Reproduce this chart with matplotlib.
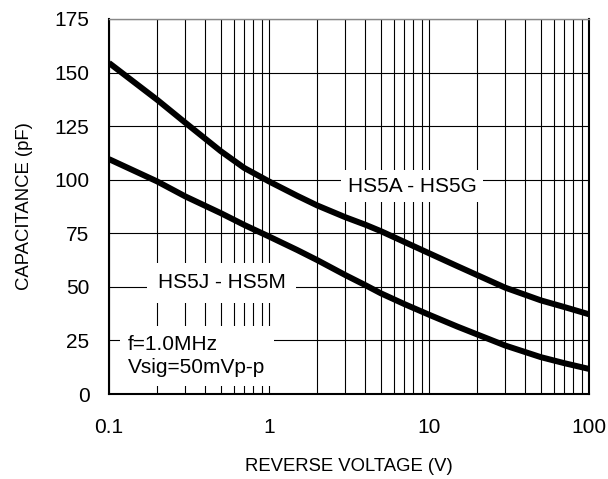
import matplotlib
matplotlib.use("Agg")
import matplotlib.pyplot as plt
from matplotlib.ticker import FixedLocator, NullFormatter, FixedFormatter

plt.rcParams['font.family'] = ['Liberation Sans', 'DejaVu Sans']

voltage = [0.1, 0.2, 0.3, 0.4, 0.5, 0.7, 1, 1.5, 2, 3, 4, 5, 7, 10, 15, 20, 30, 50, 70, 100]
cap_hs5a_hs5g = [154.5, 137.3, 126.6, 119.1, 113.3, 105.5, 99.2, 92.5, 88.0, 82.5, 79.0, 76.0,
                 71.0, 65.7, 59.7, 55.5, 49.6, 43.7, 40.6, 37.2]
cap_hs5j_hs5m = [109.6, 99.2, 92.2, 87.8, 84.4, 78.9, 73.5, 67.2, 62.5, 55.5, 50.8, 47.0,
                 42.0, 37.0, 31.5, 27.8, 22.6, 17.2, 14.4, 11.7]

x_major = [0.1, 1, 10, 100]
x_labels = ["0.1", "1", "10", "100"]
y_ticks = [0, 25, 50, 75, 100, 125, 150, 175]

fig = plt.figure(figsize=(6.08, 4.79), dpi=100)
ax = fig.add_axes([109/608, (479-394)/479, 480/608, 375/479])

ax.set_xscale('log')
ax.set_xlim(0.1, 100)
ax.set_ylim(0, 175)

minor = [m * d for d in [0.1, 1, 10] for m in range(2, 10)]
ax.xaxis.set_major_locator(FixedLocator(x_major))
ax.xaxis.set_major_formatter(FixedFormatter(x_labels))
ax.xaxis.set_minor_locator(FixedLocator(minor))
ax.xaxis.set_minor_formatter(NullFormatter())
ax.set_yticks(y_ticks)

ax.grid(True, which='both', axis='x', color='black', linewidth=0.8)
ax.grid(True, which='major', axis='y', color='black', linewidth=0.8)
ax.set_axisbelow(True)

ax.tick_params(axis='both', which='both', length=0, labelsize=15)
ax.tick_params(axis='x', pad=17)
ax.tick_params(axis='y', pad=14)

for s in ['left', 'bottom', 'right']:
    ax.spines[s].set_color('black')
    ax.spines[s].set_linewidth(1.5)
ax.spines['top'].set_color('#888888')
ax.spines['top'].set_linewidth(1.0)

ax.plot(voltage, cap_hs5a_hs5g, color='black', linewidth=4.3, solid_joinstyle='round', solid_capstyle='butt', zorder=3)
ax.plot(voltage, cap_hs5j_hs5m, color='black', linewidth=4.3, solid_joinstyle='round', solid_capstyle='butt', zorder=3)

ax.text(7.88, 97, "HS5A - HS5G", fontsize=15, ha='center', va='center', zorder=4,
        bbox=dict(boxstyle='square,pad=0.32', facecolor='white', edgecolor='none'))
ax.text(0.505, 51.8, "HS5J - HS5M", fontsize=15, ha='center', va='center', zorder=4,
        bbox=dict(boxstyle='square,pad=0.52', facecolor='white', edgecolor='none'))
ax.text(0.1315, 17.7, "f=1.0MHz\nVsig=50mVp-p", fontsize=15, ha='left', va='center', zorder=4,
        linespacing=1.3,
        bbox=dict(boxstyle='square,pad=0.4', facecolor='white', edgecolor='none'))

ax.set_xlabel("REVERSE VOLTAGE (V)", fontsize=13.3, va='top')
ax.xaxis.set_label_coords(0.5, -0.171)
ax.set_ylabel("CAPACITANCE (pF)", fontsize=13.3)
ax.yaxis.set_label_coords(-0.158, 0.5)

fig.savefig("out.png", dpi=100)
